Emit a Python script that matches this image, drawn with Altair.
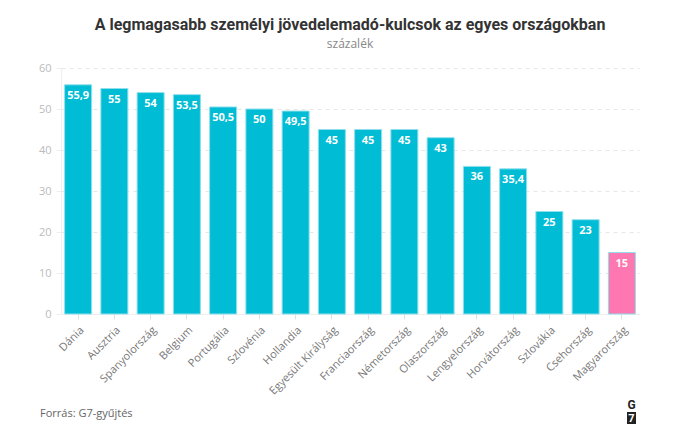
import altair as alt
import pandas as pd

countries = ["Dánia", "Ausztria", "Spanyolország", "Belgium", "Portugália", "Szlovénia",
             "Hollandia", "Egyesült Királyság", "Franciaország", "Németország", "Olaszország",
             "Lengyelország", "Horvátország", "Szlovákia", "Csehország", "Magyarország"]
rates = [55.9, 55, 54, 53.5, 50.5, 50, 49.5, 45, 45, 45, 43, 36, 35.4, 25, 23, 15]
highlight = [False] * 15 + [True]

df = pd.DataFrame({
    "country": countries,
    "rate": rates,
    "label": [("%g" % v).replace(".", ",") for v in rates],
    "hu": ["Magyarország" if h else "Egyéb" for h in highlight],
})

FONT = "Open Sans"

base = alt.Chart(df)

bars = base.mark_bar(stroke="#8fe0ec", strokeWidth=1).encode(
    x=alt.X("country:N", sort=countries,
            scale=alt.Scale(paddingInner=0.255, paddingOuter=0.1),
            axis=alt.Axis(title=None, labelAngle=-45, labelColor="#777", labelFontSize=11,
                          labelFont=FONT, domainColor="#eeeeee", tickColor="#e0e0e0",
                          tickSize=5, labelPadding=5)),
    y=alt.Y("rate:Q", scale=alt.Scale(domain=[0, 60]),
            axis=alt.Axis(title=None, values=[0, 10, 20, 30, 40, 50, 60], labelColor="#bbbbbb",
                          labelFontSize=11, labelFont=FONT, domainColor="#eeeeee",
                          tickColor="#eeeeee", tickSize=5, labelPadding=5,
                          gridColor="#e6e6e6", gridDash=[4, 4])),
    color=alt.Color("hu:N", scale=alt.Scale(domain=["Egyéb", "Magyarország"],
                                            range=["#00BCD4", "#FF77B0"]), legend=None),
)

labels = base.mark_text(color="white", fontWeight="bold", fontSize=11, font=FONT,
                        baseline="top", dy=5).encode(
    x=alt.X("country:N", sort=countries),
    y="rate:Q",
    text="label:N",
)

src = alt.Chart(pd.DataFrame({"t": ["Forrás: G7-gyűjtés"]})).mark_text(
    align="left", baseline="middle", fontSize=11, font=FONT, color="#666").encode(
    text="t:N", x=alt.value(-21), y=alt.value(346))

logo_box = alt.Chart(pd.DataFrame({"t": ["7"]})).mark_rect(color="#222").encode(
    x=alt.value(566), x2=alt.value(575), y=alt.value(344), y2=alt.value(356))
logo_g = alt.Chart(pd.DataFrame({"t": ["G"]})).mark_text(
    fontWeight="bold", fontSize=12, font="Roboto", color="#222", baseline="middle").encode(
    text="t:N", x=alt.value(570.5), y=alt.value(337))
logo_7 = alt.Chart(pd.DataFrame({"t": ["7"]})).mark_text(
    fontWeight="bold", fontSize=11, font="Roboto", color="white", baseline="middle").encode(
    text="t:N", x=alt.value(570.5), y=alt.value(350.5))

chart = alt.layer(bars, labels, src, logo_box, logo_g, logo_7).properties(
    width=578, height=246,
    autosize=alt.AutoSizeParams(type="none"),
    padding={"left": 53, "top": 60, "right": 50, "bottom": 120},
    title=alt.TitleParams(
        "A legmagasabb személyi jövedelemadó-kulcsok az egyes országokban",
        subtitle="százalék", anchor="middle", font="Roboto", fontSize=16, fontWeight="bold",
        color="#333", subtitleFont=FONT, subtitleFontSize=12, subtitleColor="#888",
        offset=12, subtitlePadding=6),
).configure_view(stroke=None)

chart.save("out.html", embed_options={"renderer": "svg", "actions": False})
